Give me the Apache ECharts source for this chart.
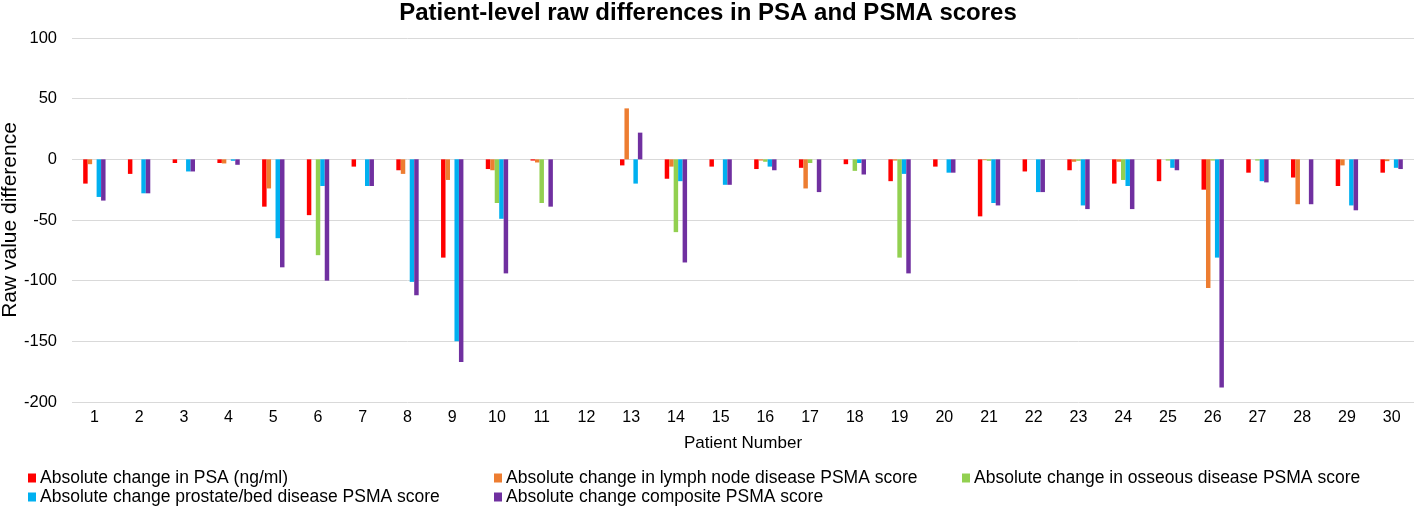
<!DOCTYPE html>
<html>
<head>
<meta charset="utf-8">
<script src="https://cdn.jsdelivr.net/npm/echarts@6/dist/echarts.min.js"></script>
<style>html,body{margin:0;padding:0;background:#fff}#c{width:1416px;height:507px}</style>
</head>
<body>
<div id="c"></div>
<script>
const patients = ['1','2','3','4','5','6','7','8','9','10','11','12','13','14','15','16','17','18','19','20','21','22','23','24','25','26','27','28','29','30'];
const psa =      [-20,-12,-3,-3,-39,-46,-6,-9,-81,-8,-1,0,-5,-16,-6,-8,-7,-4,-18,-6,-47,-10,-9,-20,-18,-25,-11,-15,-22,-11];
const lymph =    [-4,0,0,-3.4,-24,0,0,-12,-17,-9,-2.6,0,42,-6,0,-1,-24,0,-1,0,-0.7,0,-2,-2,0,-106,0,-37,-5,-1.5];
const osseous =  [0,0,0,0,0,-79,0,0,0,-36,-36,0,0,-60,0,-2,-3,-9.5,-81,0,-1.2,0,-1.2,-17,-1,-1,-1,0,0,0];
const prostate = [-31,-28,-10,-1.2,-65,-22,-22,-101,-150,-49,0,0,-20,-18,-21,-6,0,-3,-12,-11,-36,-27,-38,-22,-7,-81,-18,0,-38,-7];
const composite =[-34,-28,-10,-4.5,-89,-100,-22,-112,-167,-94,-39,0,22,-85,-21,-9,-27,-12.5,-94,-11,-38,-27,-41,-41,-9,-188,-19,-37,-42,-8];
const yTicks = {min:-200, max:100, interval:50};

const names = ['Absolute change in PSA (ng/ml)','Absolute change in lymph node disease PSMA score','Absolute change in osseous disease PSMA score','Absolute change prostate/bed disease PSMA score','Absolute change composite PSMA score'];
const colors = ['#ff0000','#ed7d31','#92d050','#00b0f0','#7030a0'];
const datas = [psa,lymph,osseous,prostate,composite];
const FONT = 'Arial, "Liberation Sans", sans-serif';

const chart = echarts.init(document.getElementById('c'), null, {renderer:'canvas'});
const legendBase = {orient:'vertical', icon:'rect', itemWidth:8, itemHeight:9, itemGap:1, padding:0,
  textStyle:{fontFamily:FONT, fontSize:17.5, color:'#000', padding:[0,0,0,-1]}, top:469, selectedMode:false};
chart.setOption({
  animation:false,
  color: colors,
  title:{text:'Patient-level raw differences in PSA and PSMA scores', left:'center', top:0, padding:[1,0,0,0],
    textStyle:{fontFamily:FONT, fontSize:24, fontWeight:'bold', color:'#000'}},
  grid:{left:72, right:2, top:38, bottom:105, outerBoundsMode:'none', containLabel:false},
  legend:[
    Object.assign({}, legendBase, {left:28, data:[names[0], names[3]]}),
    Object.assign({}, legendBase, {left:494, data:[names[1], names[4]]}),
    Object.assign({}, legendBase, {left:962, data:[names[2]]})
  ],
  xAxis:{type:'category', data:patients, name:'Patient Number', nameLocation:'middle', nameGap:33,
    nameMoveOverlap:false,
    nameTextStyle:{fontFamily:FONT, fontSize:17, color:'#000'},
    axisLine:{show:false}, axisTick:{show:false},
    axisLabel:{fontFamily:FONT, fontSize:16, color:'#000', margin:8}},
  yAxis:{type:'value', min:yTicks.min, max:yTicks.max, interval:yTicks.interval,
    name:'Raw value difference', nameLocation:'middle', nameGap:51, nameMoveOverlap:false,
    nameTextStyle:{fontFamily:FONT, fontSize:21, color:'#000'},
    axisLine:{show:false}, axisTick:{show:false},
    axisLabel:{fontFamily:FONT, fontSize:16.5, color:'#000', margin:15},
    splitLine:{lineStyle:{color:'#d9d9d9', width:1}}},
  series: datas.map((d,i)=>({name:names[i], type:'bar', data:d, barGap:'0%', barCategoryGap:'50%',
    itemStyle:{color:colors[i]}}))
});
</script>
</body>
</html>
